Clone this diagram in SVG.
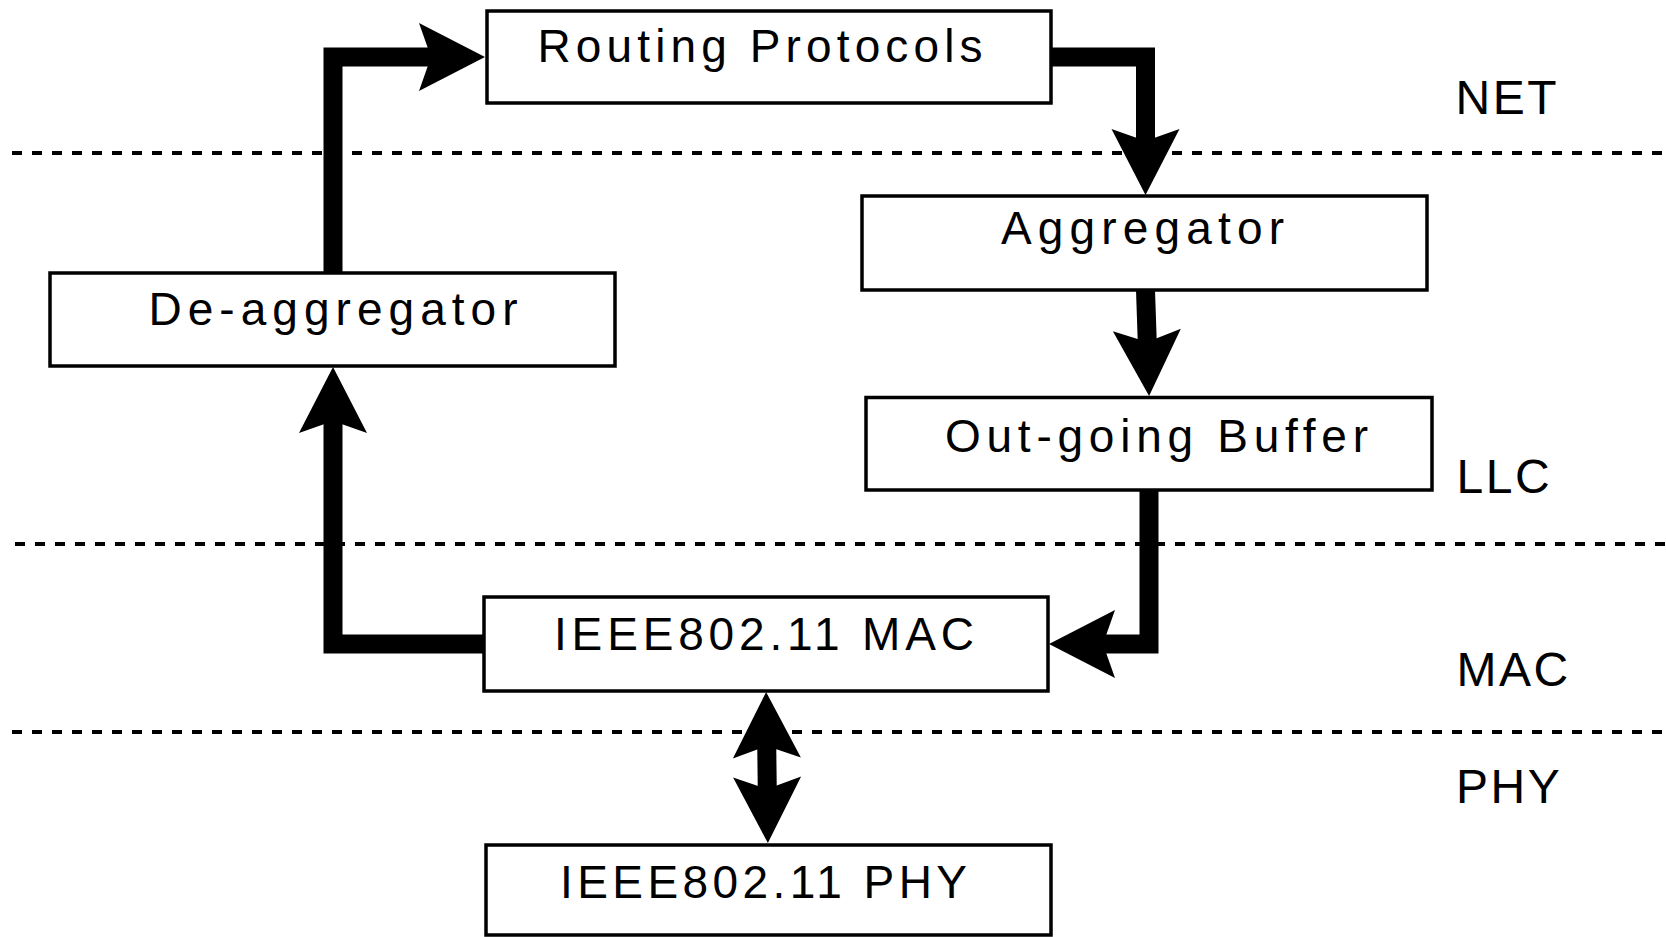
<svg xmlns="http://www.w3.org/2000/svg" width="1666" height="937" viewBox="0 0 1666 937">
<style>
.layer{stroke:#000;stroke-width:4;stroke-dasharray:10 10;fill:none}
.box{fill:#fff;stroke:#000;stroke-width:3.5}
.lbl{font-family:"Liberation Sans",Arial,sans-serif;font-size:46px;fill:#000}
.lay{font-family:"Liberation Sans",Arial,sans-serif;font-size:48px;letter-spacing:2.5px;fill:#000}
.conn{fill:none;stroke:#000;stroke-width:19;stroke-linejoin:miter;stroke-linecap:butt}
</style>
<defs>
<marker id="ah" markerUnits="userSpaceOnUse" markerWidth="1" markerHeight="1" refX="0" refY="0" orient="auto-start-reverse" overflow="visible">
<path d="M50,0 L-16,-34 L-4,0 L-16,34 Z" fill="#000"/>
</marker>
</defs>
<g id="layers">
<line class="layer" x1="12" y1="153" x2="1666" y2="153"/>
<line class="layer" x1="15" y1="544" x2="1666" y2="544"/>
<line class="layer" x1="12" y1="732" x2="1666" y2="732"/>
</g>
<g id="layer-labels">
<text class="lay" x="1455.5" y="114">NET</text>
<text class="lay" x="1456.5" y="493">LLC</text>
<text class="lay" x="1456.5" y="686">MAC</text>
<text class="lay" x="1456" y="803">PHY</text>
</g>
<g id="connectors">
<path class="conn" d="M333,273 V57 H435" marker-end="url(#ah)"/>
<path class="conn" d="M1051,57 H1145.5 V145" marker-end="url(#ah)"/>
<path class="conn" d="M1145.5,290 L1147.4,346" marker-end="url(#ah)"/>
<path class="conn" d="M1149,490 V644 H1099" marker-end="url(#ah)"/>
<path class="conn" d="M484,644 H333 V417" marker-end="url(#ah)"/>
<path class="conn" d="M766.7,742 L767.3,793" marker-start="url(#ah)" marker-end="url(#ah)"/>
</g>
<g id="routing">
<rect class="box" x="487" y="11" width="564" height="92"/>
<text class="lbl" x="537.5" y="62" textLength="445" lengthAdjust="spacing">Routing Protocols</text>
</g>
<g id="aggregator">
<rect class="box" x="862" y="196" width="565" height="94"/>
<text class="lbl" x="1001" y="244" textLength="283" lengthAdjust="spacing">Aggregator</text>
</g>
<g id="outgoing">
<rect class="box" x="866" y="397.5" width="566" height="92.5"/>
<text class="lbl" x="945" y="452" textLength="423" lengthAdjust="spacing">Out-going Buffer</text>
</g>
<g id="deaggregator">
<rect class="box" x="50" y="273" width="565" height="93"/>
<text class="lbl" x="148.5" y="325" textLength="369" lengthAdjust="spacing">De-aggregator</text>
</g>
<g id="mac">
<rect class="box" x="484" y="597" width="564" height="94"/>
<text class="lbl" x="554" y="650" textLength="420" lengthAdjust="spacing">IEEE802.11 MAC</text>
</g>
<g id="phy">
<rect class="box" x="486" y="845" width="565" height="90"/>
<text class="lbl" x="560" y="898" textLength="407" lengthAdjust="spacing">IEEE802.11 PHY</text>
</g>
</svg>
